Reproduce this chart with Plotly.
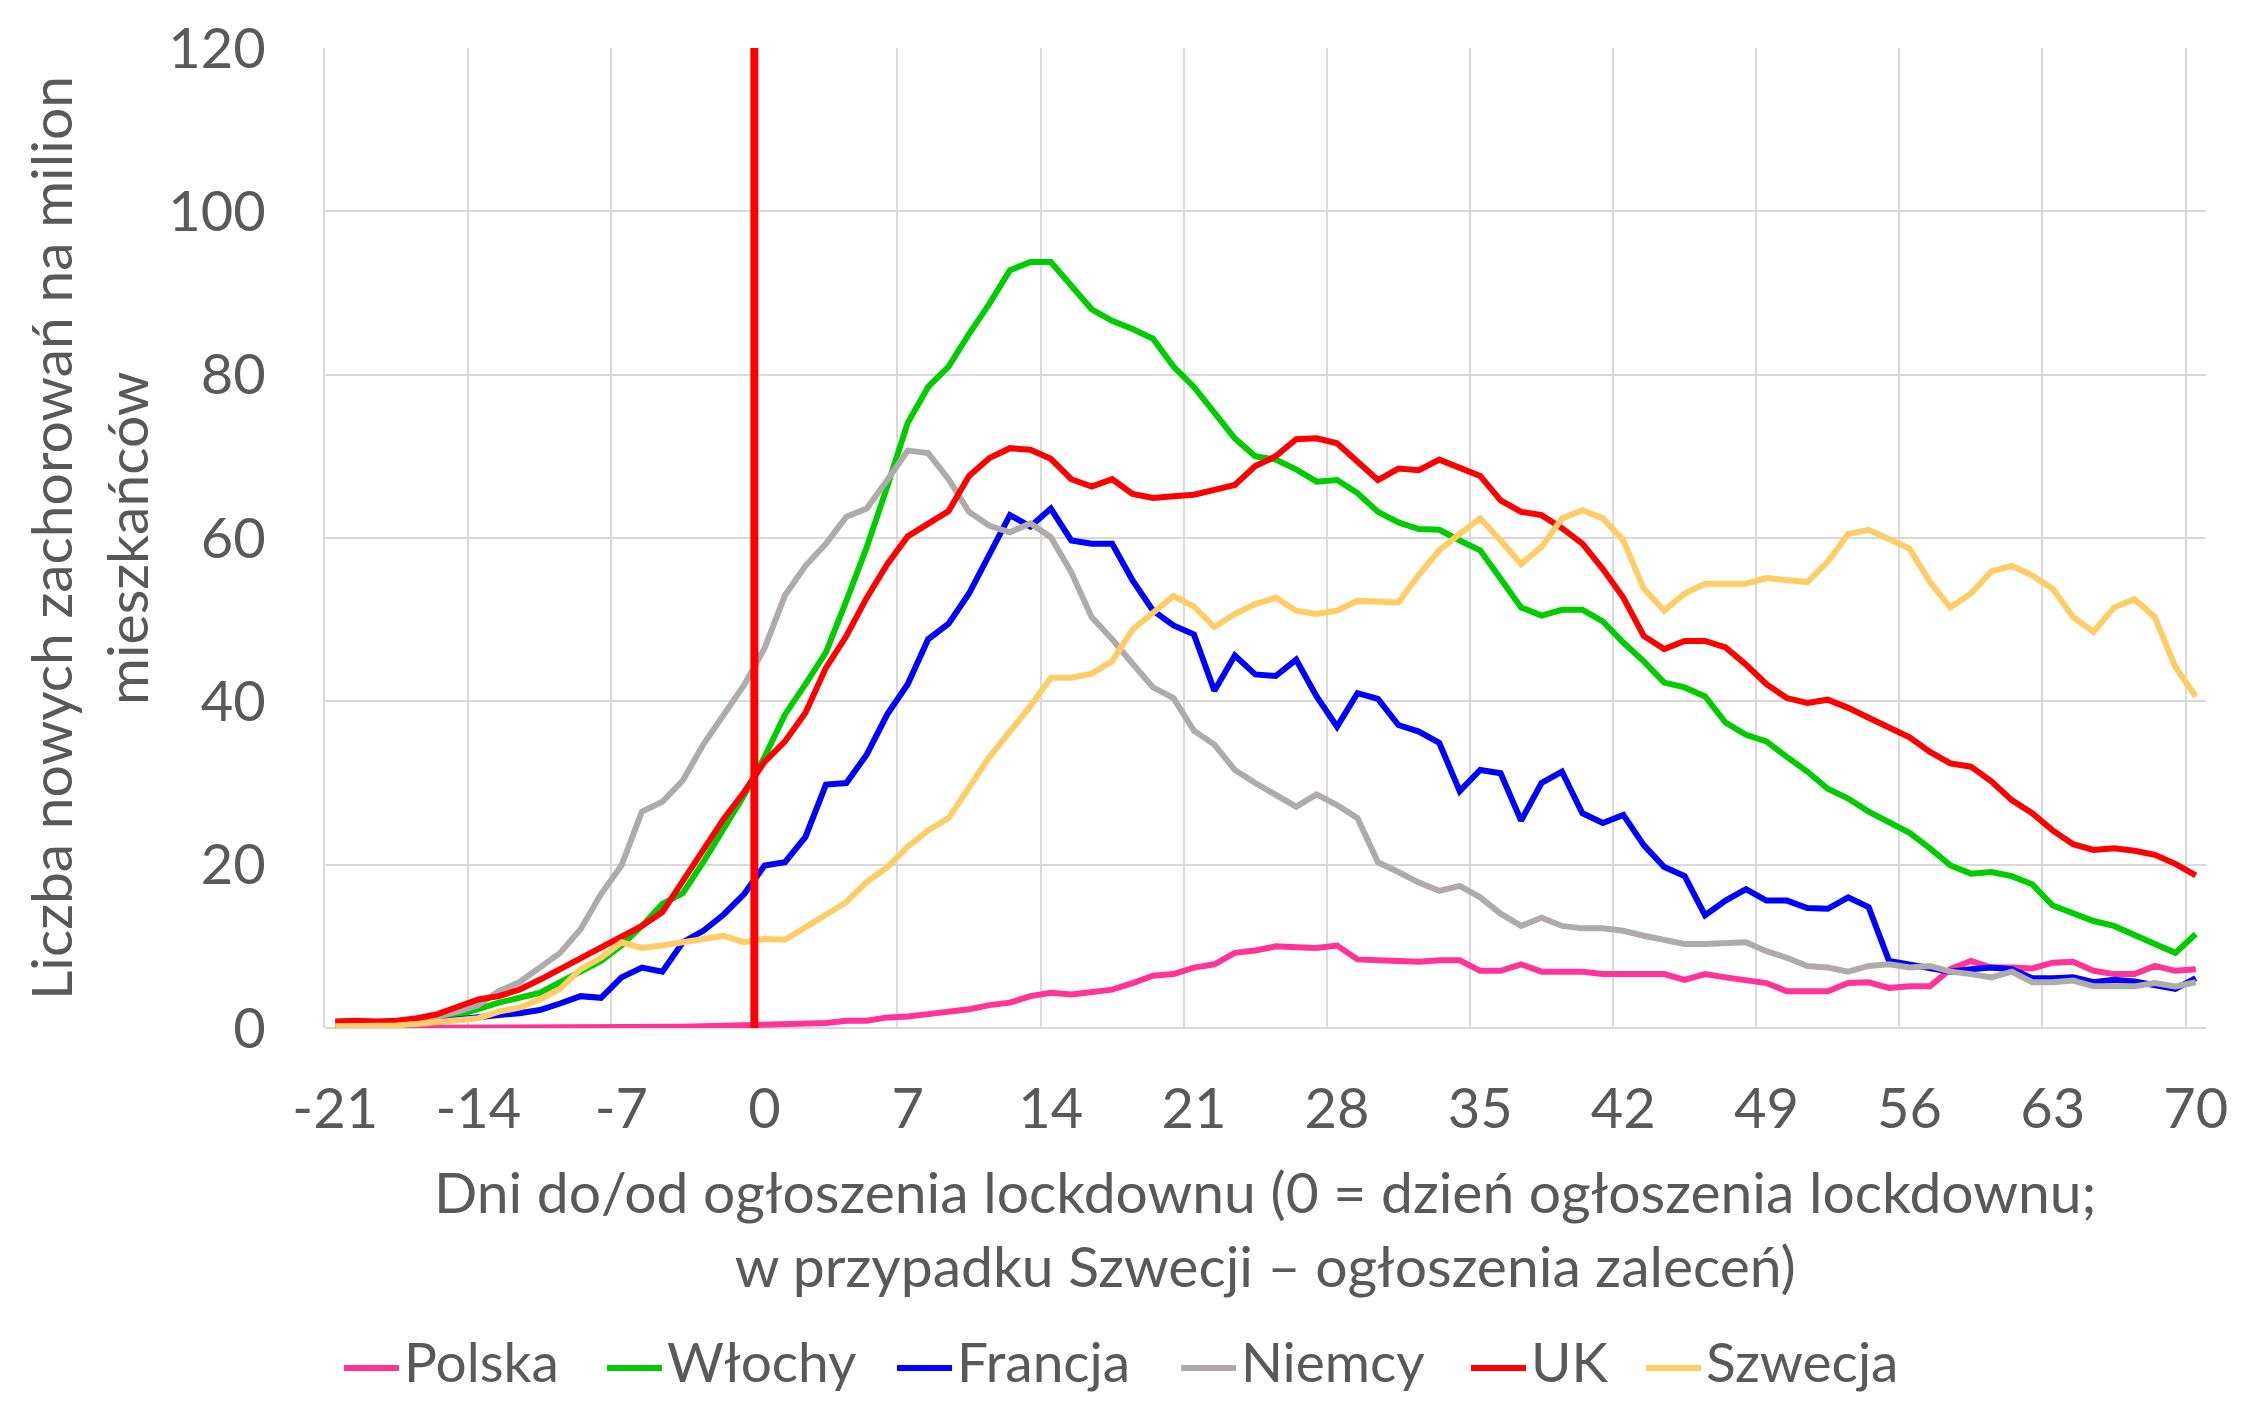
import plotly.graph_objects as go

# ---- data -------------------------------------------------------------
days = list(range(-21, 71))

polska = [0, 0, 0, 0, 0, 0, 0, 0, 0, 0, 0, 0.05, 0.05, 0.05, 0.1, 0.1, 0.1, 0.15, 0.2, 0.25, 0.3, 0.35,
          0.4, 0.6, 0.6, 0.9, 0.9, 1.3, 1.4, 1.7, 2.0, 2.3, 2.8, 3.1, 3.9, 4.3, 4.1, 4.4, 4.7, 5.5, 6.4, 6.6, 7.4, 7.8, 9.2, 9.5,
          10.0, 9.9, 9.8, 10.1, 8.4, 8.3, 8.2, 8.1, 8.3, 8.3, 7.0, 7.0, 7.8, 6.9, 6.9, 6.9, 6.6, 6.6, 6.6, 6.6, 5.9, 6.6, 6.2, 5.9,
          5.5, 4.5, 4.5, 4.5, 5.5, 5.6, 4.9, 5.1, 5.1, 7.2, 8.2, 7.4, 7.4, 7.3, 8.0, 8.1, 7.0, 6.6, 6.6, 7.6, 7.0, 7.2]

wlochy = [0.5, 0.6, 0.6, 0.7, 0.9, 1.2, 1.6, 2.3, 3.1, 3.7, 4.3, 5.6, 7.0, 8.2, 10.1, 12.5, 15.2, 16.5, 20.3, 24.4, 28.5, 33.2,
          38.4, 42.1, 46.0, 52.3, 58.9, 66.3, 74.1, 78.5, 81.0, 85.0, 88.7, 92.8, 93.8, 93.8, 91.0, 88.0, 86.6, 85.6, 84.4, 81.0, 78.5, 75.3, 72.2, 70.0,
          69.6, 68.4, 66.9, 67.1, 65.5, 63.2, 61.9, 61.1, 61.0, 59.7, 58.5, 55.0, 51.5, 50.5, 51.2, 51.2, 49.8, 47.2, 44.9, 42.3, 41.7, 40.6, 37.4, 35.9,
          35.1, 33.2, 31.4, 29.3, 28.1, 26.5, 25.1, 23.9, 22.0, 19.9, 18.9, 19.1, 18.6, 17.6, 15.0, 14.0, 13.1, 12.5, 11.3, 10.3, 9.2, 11.5]

francja = [0.2, 0.2, 0.2, 0.3, 0.5, 0.8, 1.1, 1.4, 1.6, 1.8, 2.2, 3.0, 3.9, 3.7, 6.2, 7.4, 6.9, 10.5, 11.9, 13.9, 16.4, 19.9,
           20.3, 23.4, 29.8, 30.0, 33.5, 38.4, 42.1, 47.6, 49.5, 53.2, 57.9, 62.8, 61.4, 63.6, 59.7, 59.3, 59.3, 54.8, 51.1, 49.3, 48.2, 41.3, 45.6, 43.3,
           43.1, 45.1, 40.6, 36.9, 41.0, 40.3, 37.1, 36.3, 34.9, 29.0, 31.6, 31.2, 25.4, 30.0, 31.4, 26.3, 25.1, 26.1, 22.4, 19.7, 18.6, 13.8, 15.6, 17.0,
           15.6, 15.6, 14.7, 14.6, 16.0, 14.8, 8.2, 7.8, 7.4, 6.9, 7.2, 7.4, 7.2, 6.1, 6.1, 6.2, 5.6, 5.9, 5.7, 5.2, 4.8, 6.1]

niemcy = [0.6, 0.7, 0.6, 0.7, 1.0, 1.4, 2.0, 2.8, 4.5, 5.6, 7.4, 9.2, 12.1, 16.4, 19.9, 26.5, 27.7, 30.3, 34.7, 38.4, 42.0, 46.5,
          53.0, 56.6, 59.3, 62.6, 63.6, 67.1, 70.7, 70.4, 67.2, 63.2, 61.5, 60.7, 61.8, 60.1, 55.8, 50.3, 47.6, 44.6, 41.7, 40.4, 36.4, 34.7, 31.6, 30.0,
          28.5, 27.1, 28.6, 27.3, 25.7, 20.3, 19.1, 17.8, 16.8, 17.4, 16.0, 14.0, 12.5, 13.5, 12.5, 12.2, 12.2, 11.9, 11.3, 10.8, 10.3, 10.3, 10.4, 10.5,
          9.4, 8.6, 7.6, 7.4, 6.9, 7.6, 7.8, 7.4, 7.6, 6.9, 6.6, 6.2, 6.9, 5.6, 5.6, 5.8, 5.1, 5.1, 5.1, 5.5, 5.1, 5.6]

uk = [0.8, 0.9, 0.8, 0.9, 1.2, 1.7, 2.6, 3.5, 3.9, 4.7, 5.9, 7.2, 8.6, 9.8, 11.1, 12.5, 14.2, 18.1, 21.8, 25.6, 28.9, 32.6,
      35.1, 38.6, 44.1, 48.0, 52.7, 56.8, 60.2, 61.8, 63.3, 67.6, 69.8, 71.0, 70.8, 69.7, 67.2, 66.3, 67.2, 65.4, 64.9, 65.1, 65.3, 65.9, 66.5, 68.8,
      70.0, 72.1, 72.2, 71.6, 69.4, 67.1, 68.5, 68.3, 69.6, 68.5, 67.6, 64.6, 63.2, 62.8, 61.2, 59.3, 56.2, 52.7, 48.0, 46.4, 47.4, 47.4, 46.6, 44.5,
      42.1, 40.4, 39.8, 40.2, 39.2, 38.0, 36.7, 35.6, 33.8, 32.4, 32.0, 30.2, 27.9, 26.3, 24.2, 22.5, 21.8, 22.0, 21.7, 21.2, 20.1, 18.7]

szwecja = [0.2, 0.2, 0.2, 0.3, 0.5, 0.7, 0.9, 1.2, 2.0, 2.5, 3.5, 4.8, 7.2, 8.6, 10.5, 9.8, 10.1, 10.5, 10.8, 11.3, 10.5, 10.9,
           10.8, 12.3, 13.7, 15.4, 17.9, 19.7, 22.2, 24.2, 25.7, 29.6, 33.2, 36.3, 39.4, 42.9, 42.9, 43.4, 44.9, 48.8, 50.9, 52.9, 51.6, 49.1, 50.7, 51.9,
           52.7, 51.1, 50.7, 51.1, 52.3, 52.2, 52.1, 55.5, 58.5, 60.5, 62.4, 59.7, 56.8, 58.9, 62.4, 63.4, 62.4, 59.7, 53.8, 51.1, 53.2, 54.4, 54.4, 54.4,
           55.1, 54.8, 54.6, 57.1, 60.5, 61.0, 59.9, 58.7, 54.6, 51.5, 53.2, 55.9, 56.6, 55.4, 53.8, 50.3, 48.5, 51.5, 52.5, 50.3, 44.2, 40.6]

series_names = ["Polska", "Włochy", "Francja", "Niemcy", "UK", "Szwecja"]
series_values = [polska, wlochy, francja, niemcy, uk, szwecja]
series_colors = ["#FF3399", "#00CC00", "#0000FF", "#AFABAB", "#FF0000", "#FFCC66"]

x_tick_vals = [-21, -14, -7, 0, 7, 14, 21, 28, 35, 42, 49, 56, 63, 70]
x_tick_text = [str(v) for v in x_tick_vals]
y_tick_vals = [0, 20, 40, 60, 80, 100, 120]
lockdown_day = 0

y_title_lines = ["Liczba nowych zachorowań na milion", "mieszkańców"]
x_title = "Dni do/od ogłoszenia lockdownu (0 = dzień ogłoszenia lockdownu;<br>w przypadku Szwecji – ogłoszenia zaleceń)"

# ---- layout constants (page pixels) ----------------------------------
PAGE_W, PAGE_H = 2250, 1403
BODY_MARGIN = 8                      # default <body> margin of the html page
W = PAGE_W - BODY_MARGIN
H = PAGE_H - 2 * BODY_MARGIN
PLOT_L, PLOT_T, PLOT_W, PLOT_H = 325, 48, 1881, 980   # plot area on the page
ML = PLOT_L - BODY_MARGIN
MT = PLOT_T - BODY_MARGIN
MR = W - ML - PLOT_W
MB = H - MT - PLOT_H
FONT = "Lato"
TXT = "#595959"
GRID = "#D9D9D9"
FS_TICK = 56
FS_TITLE = 57
FS_LEG = 55
Y_TITLE_CX = [50, 126]
X_TITLE_CY = 1228
LEG_ITEM_PX = [344, 607, 897, 1181, 1471, 1646]   # left edge of each legend sample
LEG_SAMPLE_W = 55
LEG_Y_PX = 1368
LEG_TEXT_Y_PX = 1361


def px_to_paper_x(px):
    return (px - PLOT_L) / PLOT_W


def px_to_paper_y(py):
    return (PLOT_T + PLOT_H - py) / PLOT_H


fig = go.Figure()
for name, vals, col in zip(series_names, series_values, series_colors):
    fig.add_trace(go.Scatter(x=days, y=vals, mode="lines", name=name,
                             line=dict(color=col, width=6), showlegend=False))

# category-boundary gridlines (Excel "between tick marks")
grid_x = [v - 0.5 for v in x_tick_vals]

fig.update_layout(
    width=W, height=H,
    margin=dict(l=ML, r=MR, t=MT, b=MB),
    paper_bgcolor="white", plot_bgcolor="white",
    font=dict(family=FONT, size=FS_TICK, color=TXT),
    showlegend=False,
    xaxis=dict(range=[days[0] - 0.5, days[-1] + 0.5], tickmode="array",
               tickvals=x_tick_vals, ticktext=x_tick_text, showgrid=False,
               zeroline=False, showline=False, ticks="", automargin=False,
               ticklabelstandoff=43,
               tickfont=dict(size=FS_TICK, color=TXT, family=FONT),
               minor=dict(tickmode="array", tickvals=grid_x, showgrid=True,
                          gridcolor=GRID, gridwidth=2, ticks="")),
    yaxis=dict(range=[0, 120], tickmode="array", tickvals=y_tick_vals,
               showgrid=True, gridcolor=GRID, gridwidth=2,
               zeroline=True, zerolinecolor=GRID, zerolinewidth=2,
               showline=True, linecolor=GRID, linewidth=2,
               ticks="", ticklabelstandoff=46, automargin=False,
               tickfont=dict(size=FS_TICK, color=TXT, family=FONT)),
)

fig.add_shape(type="line", xref="x", yref="paper",
              x0=lockdown_day - 0.5, x1=lockdown_day - 0.5, y0=0, y1=1,
              line=dict(color="#FF0000", width=8), layer="above")

# y-axis title (two lines)
for line_txt, cx in zip(y_title_lines, Y_TITLE_CX):
    fig.add_annotation(text=line_txt, xref="paper", yref="paper",
                       x=px_to_paper_x(cx), y=0.5,
                       xanchor="center", yanchor="middle",
                       textangle=-90, showarrow=False,
                       font=dict(size=FS_TITLE, color=TXT, family=FONT))

# x-axis title
fig.add_annotation(text=x_title, xref="paper", yref="paper",
                   x=0.5, y=px_to_paper_y(X_TITLE_CY),
                   xanchor="center", yanchor="middle", showarrow=False,
                   font=dict(size=FS_TITLE, color=TXT, family=FONT))

# legend
for name, col, lx in zip(series_names, series_colors, LEG_ITEM_PX):
    fig.add_shape(type="line", xref="paper", yref="paper",
                  x0=px_to_paper_x(lx), x1=px_to_paper_x(lx + LEG_SAMPLE_W),
                  y0=px_to_paper_y(LEG_Y_PX), y1=px_to_paper_y(LEG_Y_PX),
                  line=dict(color=col, width=6))
    fig.add_annotation(text=name, xref="paper", yref="paper",
                       x=px_to_paper_x(lx + LEG_SAMPLE_W + 3),
                       y=px_to_paper_y(LEG_TEXT_Y_PX),
                       xanchor="left", yanchor="middle", showarrow=False,
                       font=dict(size=FS_LEG, color=TXT, family=FONT))

fig.write_html("out.html")
